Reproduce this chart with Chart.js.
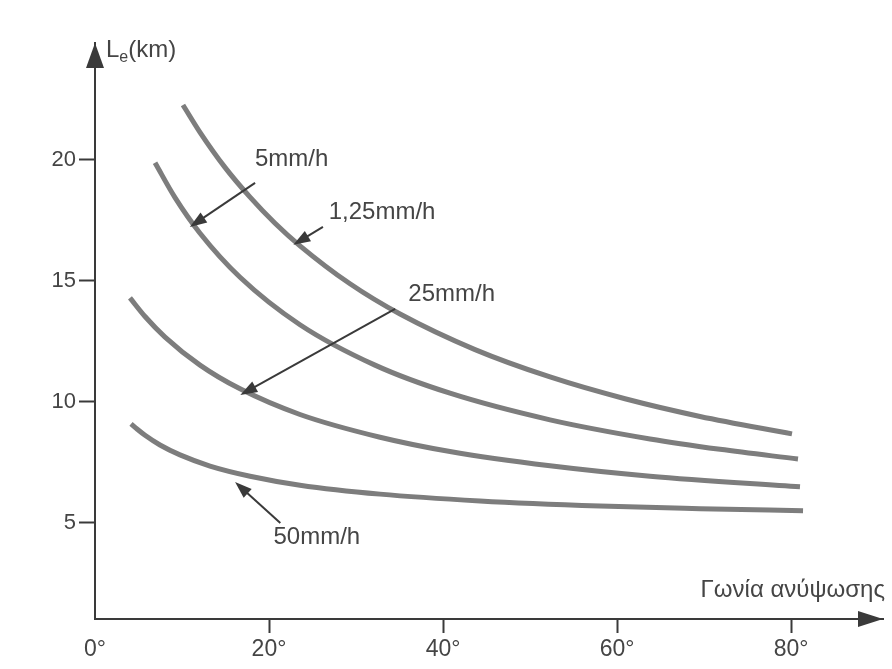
<!DOCTYPE html>
<html>
<head>
<meta charset="utf-8">
<script src="https://cdn.jsdelivr.net/npm/chart.js@4"></script>
<style>
  html, body { margin: 0; padding: 0; background: #fff; }
  #wrap { width: 892px; height: 669px; }
</style>
</head>
<body>
<div id="wrap"><canvas id="c" width="892" height="669"></canvas></div>
<script>
// ---- data (x: elevation angle in degrees, y: Le in km) ----
const X_TICKS = [0, 20, 40, 60, 80];
const Y_TICKS = [5, 10, 15, 20];

const SERIES_NAMES = ['1,25mm/h', '5mm/h', '25mm/h', '50mm/h'];

const angle_125 = [10.11, 12.07, 14.94, 17.82, 20.69, 23.56, 29.31, 35.06, 43.68, 52.30, 60.92, 69.54, 80.11];
const le_125    = [22.27, 21.14, 19.69, 18.46, 17.38, 16.45, 14.88, 13.63, 12.16, 11.03, 10.13, 9.40, 8.68];

const angle_5 = [6.90, 9.20, 12.07, 16.67, 23.56, 32.18, 40.80, 52.30, 63.79, 71.84, 80.80];
const le_5    = [19.88, 18.44, 16.97, 15.15, 13.19, 11.52, 10.36, 9.26, 8.47, 8.04, 7.64];

const angle_25 = [4.02, 5.75, 8.05, 12.07, 16.67, 23.56, 32.76, 40.80, 52.30, 63.79, 81.03];
const le_25    = [14.30, 13.53, 12.68, 11.52, 10.54, 9.48, 8.54, 7.95, 7.36, 6.93, 6.49];

const angle_50 = [4.14, 4.83, 5.75, 7.47, 9.77, 13.22, 17.82, 23.56, 32.76, 44.25, 58.05, 69.54, 81.38];
const le_50    = [9.09, 8.88, 8.62, 8.22, 7.81, 7.35, 6.93, 6.56, 6.19, 5.91, 5.70, 5.59, 5.50];

// annotation labels (data coords) and their pointer arrows (tail -> head, data coords)
const LABEL_TEXT = ['5mm/h', '1,25mm/h', '25mm/h', '50mm/h'];
const LABEL_X    = [22.6, 33.0, 41.0, 25.5];
const LABEL_Y    = [20.04, 17.85, 14.46, 4.42];
const ARROW_TAIL_X = [18.4, 26.2, 34.5, 21.3];
const ARROW_TAIL_Y = [19.05, 17.23, 13.84, 5.0];
const ARROW_HEAD_X = [10.9, 22.8, 16.7, 16.1];
const ARROW_HEAD_Y = [17.23, 16.49, 10.29, 6.69];

const toPts = (xs, ys) => xs.map((x, i) => ({ x, y: ys[i] }));

const LINE_COLOR = 'rgb(125,125,125)';
const INK = '#3a3a3a';
const TEXT = '#454545';
const FONT = '"Liberation Sans", Arial, Helvetica, sans-serif';

const datasets = [
  toPts(angle_125, le_125),
  toPts(angle_5, le_5),
  toPts(angle_25, le_25),
  toPts(angle_50, le_50)
].map((d, i) => ({
  label: SERIES_NAMES[i],
  data: d,
  borderColor: LINE_COLOR,
  borderWidth: 5,
  pointRadius: 0,
  fill: false,
  cubicInterpolationMode: 'monotone',
  borderCapStyle: 'butt'
}));

function arrowHead(ctx, x1, y1, x2, y2, len, half) {
  const a = Math.atan2(y2 - y1, x2 - x1);
  ctx.beginPath();
  ctx.moveTo(x2, y2);
  ctx.lineTo(x2 - len * Math.cos(a) + half * Math.sin(a), y2 - len * Math.sin(a) - half * Math.cos(a));
  ctx.lineTo(x2 - len * Math.cos(a) - half * Math.sin(a), y2 - len * Math.sin(a) + half * Math.cos(a));
  ctx.closePath();
  ctx.fill();
}

const bgPlugin = {
  id: 'bg',
  beforeDraw(chart) {
    const c = chart.ctx;
    c.save();
    c.fillStyle = '#fff';
    c.fillRect(0, 0, chart.width, chart.height);
    c.restore();
  }
};

const decorPlugin = {
  id: 'decor',
  afterDraw(chart) {
    const c = chart.ctx;
    const a = chart.chartArea;
    const xs = chart.scales.x, ys = chart.scales.y;
    c.save();
    c.fillStyle = INK;
    c.strokeStyle = INK;
    // axis arrows
    c.beginPath();
    c.moveTo(a.left, a.top);
    c.lineTo(a.left - 9, a.top + 25);
    c.lineTo(a.left + 9, a.top + 25);
    c.closePath();
    c.fill();
    c.beginPath();
    c.moveTo(a.right, a.bottom);
    c.lineTo(a.right - 25, a.bottom - 8);
    c.lineTo(a.right - 25, a.bottom + 8);
    c.closePath();
    c.fill();

    // pointer arrows
    c.lineWidth = 2;
    for (let i = 0; i < ARROW_TAIL_X.length; i++) {
      const x1 = xs.getPixelForValue(ARROW_TAIL_X[i]);
      const y1 = ys.getPixelForValue(ARROW_TAIL_Y[i]);
      const x2 = xs.getPixelForValue(ARROW_HEAD_X[i]);
      const y2 = ys.getPixelForValue(ARROW_HEAD_Y[i]);
      const ang = Math.atan2(y2 - y1, x2 - x1);
      c.beginPath();
      c.moveTo(x1, y1);
      c.lineTo(x2 - 10 * Math.cos(ang), y2 - 10 * Math.sin(ang));
      c.stroke();
      arrowHead(c, x1, y1, x2, y2, 17, 6);
    }

    // labels
    c.fillStyle = TEXT;
    c.font = '24px ' + FONT;
    c.textAlign = 'center';
    c.textBaseline = 'middle';
    for (let i = 0; i < LABEL_TEXT.length; i++) {
      c.fillText(LABEL_TEXT[i], xs.getPixelForValue(LABEL_X[i]), ys.getPixelForValue(LABEL_Y[i]));
    }

    // y axis title: L_e(km)
    c.textAlign = 'left';
    c.textBaseline = 'alphabetic';
    c.font = '24px ' + FONT;
    let tx = a.left + 11, ty = a.top + 14;
    c.fillText('L', tx, ty);
    tx += c.measureText('L').width;
    c.font = '16px ' + FONT;
    c.fillText('e', tx, ty + 5);
    tx += c.measureText('e').width;
    c.font = '24px ' + FONT;
    c.fillText('(km)', tx, ty);

    // x axis title
    c.font = '24px ' + FONT;
    c.textAlign = 'right';
    c.fillText('Γωνία ανύψωσης', a.right + 2, a.bottom - 22);
    c.restore();
  }
};

new Chart(document.getElementById('c'), {
  type: 'line',
  data: { datasets },
  plugins: [bgPlugin, decorPlugin],
  options: {
    responsive: false,
    animation: false,
    layout: { padding: { top: 43, right: 9, left: 0, bottom: 0 } },
    plugins: { legend: { display: false }, tooltip: { enabled: false } },
    scales: {
      x: {
        type: 'linear',
        min: 0,
        max: 90.57,
        afterBuildTicks: s => { s.ticks = X_TICKS.map(v => ({ value: v })); },
        afterFit: s => { s.height = 50; },
        border: { display: true, color: INK, width: 2 },
        grid: {
          drawOnChartArea: false,
          drawTicks: true,
          tickLength: 14,
          tickWidth: 2,
          tickColor: ctx => (ctx.tick && ctx.tick.value === 0 ? 'rgba(0,0,0,0)' : INK)
        },
        ticks: {
          color: TEXT,
          font: { family: FONT, size: 23 },
          padding: 3,
          maxRotation: 0,
          callback: v => v + '°'
        }
      },
      y: {
        type: 'linear',
        min: 1.03,
        max: 24.83,
        afterBuildTicks: s => { s.ticks = Y_TICKS.map(v => ({ value: v })); },
        afterFit: s => { s.width = 95; },
        border: { display: true, color: INK, width: 2 },
        grid: {
          drawOnChartArea: false,
          drawTicks: true,
          tickLength: 16,
          tickWidth: 2,
          tickColor: INK
        },
        ticks: {
          color: TEXT,
          font: { family: FONT, size: 22 },
          padding: 3
        }
      }
    }
  }
});
</script>
</body>
</html>
